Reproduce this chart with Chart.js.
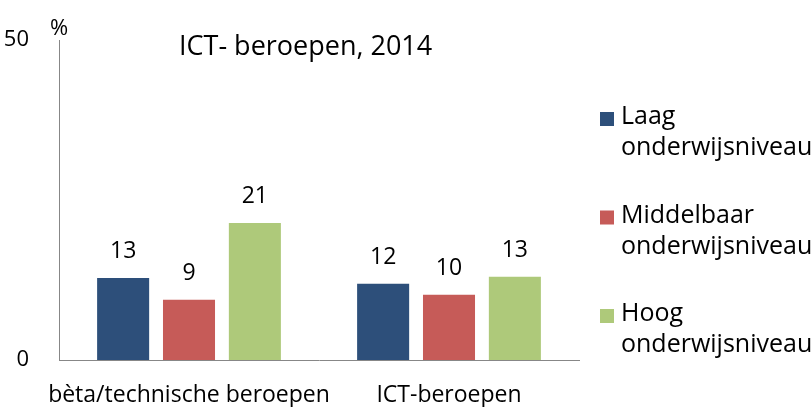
<!DOCTYPE html>
<html>
<head>
<meta charset="utf-8">
<script src="https://cdn.jsdelivr.net/npm/chart.js@4.4.0/dist/chart.umd.min.js"></script>
<style>
  html, body { margin: 0; padding: 0; background: #fff; }
  #wrap { width: 812px; height: 407px; position: relative; }
</style>
</head>
<body>
<div id="wrap"><canvas id="grafiek"></canvas></div>
<script>
const categories = ['bèta/technische beroepen', 'ICT-beroepen'];
const seriesNames = [['Laag', 'onderwijsniveau'], ['Middelbaar', 'onderwijsniveau'], ['Hoog', 'onderwijsniveau']];
const laag = [12.8, 11.9];
const middelbaar = [9.4, 10.2];
const hoog = [21.4, 13.0];
const yTicks = [0, 50];
const colors = ['#2D4F7A', '#C65B58', '#AEC97A'];

const FONT = '"Open Sans", sans-serif';

// title, % sign, value labels and legend are drawn by hand
const extras = {
    id: 'extras',
    afterDatasetsDraw(chart) {
        const ctx = chart.ctx;
        ctx.save();
        ctx.fillStyle = '#000';
        ctx.font = '27px ' + FONT;
        ctx.textAlign = 'left';
        ctx.textBaseline = 'middle';
        ctx.fillText('ICT- beroepen, 2014', 179, 47);

        ctx.font = '22px ' + FONT;
        ctx.textAlign = 'center';
        ctx.fillText('%', 59, 29);

        // labels above the bars
        ctx.font = '23px ' + FONT;
        ctx.textBaseline = 'alphabetic';
        chart.data.datasets.forEach((ds, i) => {
            chart.getDatasetMeta(i).data.forEach((bar, j) => {
                ctx.fillText(Math.round(ds.data[j]), bar.x, bar.y - 20);
            });
        });

        // legend on the right
        ctx.font = '25px ' + FONT;
        ctx.textAlign = 'left';
        ctx.textBaseline = 'middle';
        chart.data.datasets.forEach((ds, i) => {
            const y = 118 + i * 98.5;
            ctx.fillStyle = ds.backgroundColor;
            ctx.fillRect(600, y - 6, 14, 14);
            ctx.fillStyle = '#000';
            ctx.fillText(ds.label[0], 621, y - 1);
            ctx.fillText(ds.label[1], 621, y + 30);
        });
        ctx.restore();
    }
};

new Chart(document.getElementById('grafiek'), {
    type: 'bar',
    data: {
        labels: categories,
        datasets: [
            { label: seriesNames[0], data: laag, backgroundColor: colors[0] },
            { label: seriesNames[1], data: middelbaar, backgroundColor: colors[1] },
            { label: seriesNames[2], data: hoog, backgroundColor: colors[2] }
        ]
    },
    options: {
        responsive: true,
        maintainAspectRatio: false,
        animation: false,
        datasets: {
            bar: { categoryPercentage: 0.76, barPercentage: 0.79 }
        },
        layout: { padding: { left: 0, top: 40, right: 233, bottom: 0 } },
        plugins: {
            legend: { display: false },
            title: { display: false },
            tooltip: { enabled: false }
        },
        scales: {
            x: {
                grid: { display: false },
                border: { color: '#878787', width: 1 },
                ticks: { color: '#000', font: { family: FONT, size: 23 }, padding: 14, maxRotation: 0, autoSkip: false },
                afterFit: function(scale) { scale.height = 47; }
            },
            y: {
                min: 0,
                max: 50,
                grid: { display: false },
                border: { color: '#878787', width: 1 },
                afterBuildTicks: function(scale) {
                    scale.ticks = yTicks.map(v => ({ value: v }));
                },
                ticks: { color: '#000', font: { family: FONT, size: 22 }, padding: 22 },
                afterFit: function(scale) { scale.width = 59; }
            }
        }
    },
    plugins: [extras]
});
</script>
</body>
</html>
